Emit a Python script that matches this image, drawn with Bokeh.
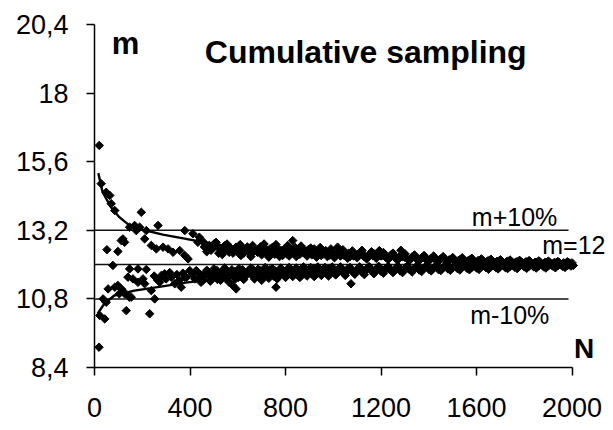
import math
from bokeh.plotting import figure
from bokeh.models import Range1d, FixedTicker, Label
from bokeh.embed import file_html
from bokeh.resources import INLINE

# ---------------- data ----------------
# upper branch of cumulative means (starting above m)
n_upper = [20, 28, 49, 64, 70, 85, 112, 119, 126, 147, 168, 175, 189, 196, 210, 217,
           238, 259, 266, 287, 308, 329, 357, 378, 378, 392, 412, 433, 439, 455, 481,
           495, 509, 530, 545, 564, 580, 593, 613, 620, 634, 650, 662, 683, 690, 704,
           715, 725, 735, 746, 755, 767, 780, 788, 809, 820, 830, 851, 860, 872, 885,
           900, 910, 920, 935, 949, 960, 968, 985, 997,
           1010, 1018, 1030, 1050, 1070, 1090, 1110, 1130, 1150, 1170, 1193, 1200, 1220,
           1240, 1260, 1283, 1290, 1310, 1330, 1350, 1370, 1390, 1410, 1430, 1450, 1470,
           1490, 1510, 1530, 1550, 1570, 1590, 1610, 1630, 1650, 1670, 1690, 1710, 1730,
           1750, 1770, 1790, 1810, 1830, 1850, 1870, 1890, 1910, 1930, 1950, 1970, 1990]
m_upper = [16.17, 14.83, 14.53, 14.42, 14.13, 13.89, 12.84, 12.90, 12.78, 13.31, 13.37, 13.19,
           13.31, 13.83, 12.90, 13.19, 12.67, 12.55, 13.37, 12.61, 12.55, 12.43, 12.49, 13.19,
           12.32, 12.20, 13.08, 12.78, 12.96, 12.80, 12.67, 12.58, 12.78, 12.55, 12.66, 12.43,
           12.40, 12.61, 12.32, 12.55, 12.49, 12.38, 12.67, 12.43, 12.52, 12.61, 12.45, 12.38,
           12.55, 12.61, 12.36, 12.43, 12.50, 12.32, 12.67, 12.40, 12.84, 12.43, 12.36, 12.55,
           12.48, 12.43, 12.34, 12.55, 12.45, 12.32, 12.38, 12.49, 12.33, 12.43,
           12.36, 12.61, 12.30, 12.40, 12.28, 12.35, 12.42, 12.27, 12.33, 12.38, 12.49, 12.30,
           12.25, 12.33, 12.22, 12.50, 12.28, 12.20, 12.27, 12.18, 12.24, 12.16, 12.22, 12.15,
           12.20, 12.13, 12.18, 12.12, 12.17, 12.11, 12.16, 12.10, 12.14, 12.09, 12.13, 12.08,
           12.12, 12.07, 12.11, 12.07, 12.10, 12.06, 12.09, 12.05, 12.08, 12.05, 12.07, 12.04,
           12.06, 12.04, 12.05, 12.04]
# more points of the upper branch (the dense band)
n_upper_2 = [470, 500, 520, 540, 555, 570, 600, 610, 640, 655, 670, 700, 710, 730, 760, 775,
             795, 815, 840, 845, 865, 890, 905, 930, 945, 975, 990, 1005, 1040, 1060, 1080,
             1100, 1120, 1140, 1160, 1180, 1210, 1230, 1250, 1270, 1300, 1320, 1340, 1360,
             1380, 1400, 1420, 1440, 1460, 1480, 1500, 1520, 1540, 1560, 1580, 1600, 1620,
             1640, 1660, 1680, 1700, 1720, 1740, 1760, 1780, 1800, 1820, 1840, 1860, 1880,
             1900, 1920, 1940, 1960, 1980, 2000]
m_upper_2 = [12.45, 12.72, 12.40, 12.50, 12.72, 12.58, 12.44, 12.70, 12.62, 12.28, 12.52,
             12.34, 12.72, 12.26, 12.70, 12.28, 12.55, 12.30, 12.60, 12.28, 12.65, 12.30,
             12.58, 12.26, 12.60, 12.28, 12.55, 12.24, 12.52, 12.22, 12.48, 12.24, 12.50,
             12.20, 12.45, 12.22, 12.42, 12.18, 12.40, 12.16, 12.38, 12.15, 12.34, 12.14,
             12.32, 12.12, 12.30, 12.11, 12.28, 12.10, 12.25, 12.09, 12.24, 12.08, 12.22,
             12.07, 12.20, 12.06, 12.19, 12.06, 12.17, 12.05, 12.16, 12.05, 12.15, 12.04,
             12.14, 12.04, 12.13, 12.03, 12.12, 12.03, 12.11, 12.03, 12.10, 12.06]
n_upper_3 = [460, 488, 515, 535, 560, 585, 605, 625, 645, 665, 695, 720, 740, 765, 785, 805,
             825, 855, 878, 895, 915, 940, 955, 980, 1000, 1025, 1045, 1065, 1085, 1105,
             1125, 1145, 1165, 1185, 1215, 1235, 1255, 1275, 1300, 1325, 1345, 1365, 1385,
             1405, 1425, 1445, 1465, 1485, 1505, 1525, 1545, 1565, 1585, 1605, 1625, 1645,
             1665, 1685, 1705, 1725, 1745, 1765, 1785, 1805, 1825, 1845, 1865, 1885, 1905,
             1925, 1945, 1965, 1985]
m_upper_3 = [12.62, 12.50, 12.62, 12.35, 12.55, 12.52, 12.48, 12.40, 12.55, 12.45, 12.62,
             12.52, 12.44, 12.56, 12.45, 12.38, 12.52, 12.50, 12.40, 12.52, 12.44, 12.38,
             12.50, 12.44, 12.30, 12.42, 12.32, 12.40, 12.30, 12.35, 12.38, 12.28, 12.32,
             12.36, 12.32, 12.28, 12.30, 12.26, 12.25, 12.22, 12.26, 12.20, 12.24, 12.19,
             12.22, 12.17, 12.21, 12.16, 12.19, 12.15, 12.18, 12.14, 12.17, 12.13, 12.16,
             12.12, 12.15, 12.11, 12.13, 12.10, 12.12, 12.09, 12.11, 12.09, 12.10, 12.08,
             12.10, 12.07, 12.09, 12.07, 12.08, 12.06, 12.08]

# lower branch of cumulative means (starting below m)
n_lower = [19, 22, 36, 43, 49, 52, 57, 77, 85, 98, 98, 104, 112, 118, 126, 133, 140, 146,
           147, 154, 161, 182, 182, 203, 210, 217, 231, 238, 250, 252, 265, 273, 280, 294,
           300, 315, 322, 336, 345, 355, 363, 370, 378, 385, 399, 410, 420, 426, 435, 440,
           446, 460, 475, 490, 505, 520, 535, 550, 564, 579, 593, 600, 615, 630, 645, 660,
           675, 690, 705, 720, 735, 750, 760, 775, 790, 805, 820, 835, 850, 865, 880, 895,
           910, 925, 940, 955, 970, 985,
           1000, 1020, 1040, 1060, 1074, 1080, 1100, 1120, 1140, 1160, 1180, 1200, 1220,
           1240, 1260, 1280, 1300, 1320, 1340, 1360, 1380, 1400, 1420, 1440, 1460, 1480,
           1500, 1520, 1540, 1560, 1580, 1600, 1620, 1640, 1660, 1680, 1700, 1720, 1740,
           1760, 1780, 1800, 1820, 1840, 1860, 1880, 1900, 1920, 1940, 1960, 1980, 1995]
m_lower = [9.11, 10.22, 10.80, 10.10, 10.68, 12.52, 11.15, 11.97, 11.21, 11.27, 12.46, 10.98,
           11.15, 11.09, 10.98, 10.39, 11.56, 10.86, 11.85, 10.86, 11.50, 11.38, 11.85, 11.50,
           11.33, 11.83, 10.28, 11.09, 11.60, 10.80, 11.45, 11.38, 11.62, 11.68, 11.50, 11.72,
           11.56, 11.33, 11.65, 11.45, 11.21, 11.70, 11.56, 11.55, 11.79, 11.66, 11.50, 11.79,
           11.72, 11.56, 11.38, 11.62, 11.75, 11.55, 11.70, 11.60, 11.78, 11.52, 11.38, 11.27,
           11.15, 11.66, 11.72, 11.58, 11.80, 11.63, 11.70, 11.56, 11.74, 11.66, 11.82, 11.60,
           11.21, 11.73, 11.66, 11.80, 11.70, 11.76, 11.64, 11.82, 11.72, 11.78, 11.68, 11.84,
           11.74, 11.80, 11.70, 11.86,
           11.76, 11.82, 11.72, 11.85, 11.33, 11.76, 11.83, 11.74, 11.86, 11.78, 11.84, 11.76,
           11.87, 11.80, 11.85, 11.78, 11.88, 11.82, 11.87, 11.81, 11.89, 11.84, 11.88, 11.83,
           11.90, 11.85, 11.89, 11.86, 11.91, 11.87, 11.90, 11.88, 11.92, 11.89, 11.92, 11.90,
           11.93, 11.90, 11.93, 11.91, 11.94, 11.92, 11.94, 11.92, 11.95, 11.93, 11.95, 11.94,
           11.96, 11.94, 11.96, 11.95]
# more points of the lower branch (the dense band)
n_lower_2 = [455, 470, 485, 500, 515, 530, 545, 560, 575, 590, 605, 625, 640, 655, 670, 685,
             700, 715, 730, 745, 765, 780, 800, 815, 830, 845, 860, 875, 890, 905, 920, 935,
             950, 965, 980, 995, 1010, 1030, 1050, 1070, 1090, 1110, 1130, 1150, 1170, 1190,
             1210, 1230, 1250, 1270, 1290, 1310, 1330, 1350, 1370, 1390, 1410, 1430, 1450,
             1470, 1490, 1510, 1530, 1550, 1570, 1590, 1610, 1630, 1650, 1670, 1690, 1710,
             1730, 1750, 1770, 1790, 1810, 1830, 1850, 1870, 1890, 1910, 1930, 1950, 1970,
             1990, 2005]
m_lower_2 = [11.45, 11.80, 11.42, 11.85, 11.48, 11.66, 11.88, 11.58, 11.82, 11.50, 11.86,
             11.48, 11.68, 11.88, 11.50, 11.84, 11.45, 11.90, 11.52, 11.86, 11.50, 11.88,
             11.55, 11.90, 11.58, 11.88, 11.55, 11.92, 11.60, 11.90, 11.58, 11.92, 11.62,
             11.90, 11.60, 11.92, 11.64, 11.92, 11.62, 11.90, 11.66, 11.92, 11.65, 11.93,
             11.68, 11.94, 11.70, 11.94, 11.72, 11.95, 11.72, 11.95, 11.74, 11.96, 11.76,
             11.96, 11.78, 11.97, 11.79, 11.97, 11.80, 11.98, 11.81, 11.98, 11.82, 11.98,
             11.83, 11.99, 11.84, 11.99, 11.85, 11.99, 11.86, 12.00, 11.86, 12.00, 11.87,
             12.00, 11.88, 12.00, 11.88, 12.01, 11.89, 12.01, 11.90, 12.01, 11.97]
n_lower_3 = [462, 480, 498, 512, 528, 542, 558, 572, 588, 602, 620, 635, 650, 665, 680, 695,
             712, 728, 742, 757, 772, 788, 808, 822, 838, 855, 870, 887, 902, 918, 932, 948,
             962, 978, 992, 1015, 1035, 1055, 1075, 1095, 1115, 1135, 1155, 1175, 1195, 1215,
             1235, 1255, 1275, 1295, 1315, 1335, 1355, 1375, 1395, 1415, 1435, 1455, 1475,
             1495, 1515, 1535, 1555, 1575, 1595, 1615, 1635, 1655, 1675, 1695, 1715, 1735,
             1755, 1775, 1795, 1815, 1835, 1855, 1875, 1895, 1915, 1935, 1955, 1975, 1998]
m_lower_3 = [11.70, 11.58, 11.68, 11.80, 11.45, 11.62, 11.74, 11.65, 11.76, 11.55, 11.82,
             11.65, 11.75, 11.82, 11.62, 11.78, 11.60, 11.74, 11.68, 11.78, 11.62, 11.76,
             11.68, 11.82, 11.68, 11.78, 11.66, 11.82, 11.72, 11.84, 11.70, 11.80, 11.74,
             11.84, 11.76, 11.70, 11.80, 11.74, 11.84, 11.76, 11.82, 11.78, 11.84, 11.76,
             11.86, 11.80, 11.85, 11.80, 11.88, 11.80, 11.86, 11.82, 11.90, 11.84, 11.90,
             11.85, 11.92, 11.86, 11.92, 11.88, 11.93, 11.88, 11.94, 11.89, 11.94, 11.90,
             11.95, 11.91, 11.95, 11.92, 11.96, 11.92, 11.96, 11.93, 11.97, 11.94, 11.97,
             11.94, 11.98, 11.95, 11.98, 11.96, 11.98, 11.96, 11.99]

# trend curves
n_fit_upper = [16, 34, 69, 104, 146, 202, 286, 383, 446, 523, 600, 800, 1000, 1200, 1400,
               1600, 1800, 2000]
m_fit_upper = [15.20, 14.53, 14.01, 13.66, 13.37, 13.22, 13.05, 12.90, 12.80, 12.70, 12.50,
               12.38, 12.28, 12.22, 12.17, 12.13, 12.10, 12.07]
n_fit_lower = [13, 41, 83, 167, 278, 390, 585, 795, 1000, 1200, 1400, 1600, 1800, 2000]
m_fit_lower = [10.28, 10.63, 10.92, 11.09, 11.23, 11.38, 11.56, 11.68, 11.76, 11.82, 11.86,
               11.89, 11.92, 11.94]

# reference levels: m+10%, m, m-10%
ref_levels = [13.2, 12.0, 10.8]
ref_end = 1985

x_ticks = [0, 400, 800, 1200, 1600, 2000]
y_ticks = [8.4, 10.8, 13.2, 15.6, 18.0, 20.4]
y_tick_labels = ["8,4", "10,8", "13,2", "15,6", "18", "20,4"]

FONT = "Liberation Sans"

# x range reaches past 2000 so the labels on the right are not clipped;
# the axis itself is bounded to 0..2000
p = figure(width=613, height=430, output_backend="svg", toolbar_location=None,
           x_range=Range1d(0, 2165), y_range=Range1d(8.4, 20.4),
           min_border_left=94, min_border_right=2, min_border_top=24, min_border_bottom=63)
p.outline_line_color = None
p.xgrid.visible = False
p.ygrid.visible = False
p.background_fill_color = "white"
p.border_fill_color = "white"

for ax in (p.xaxis[0], p.yaxis[0]):
    ax.axis_line_color = "#000000"
    ax.axis_line_width = 1.5
    ax.major_tick_line_color = "#000000"
    ax.major_tick_line_width = 1.5
    ax.major_tick_out = 8
    ax.major_tick_in = 0
    ax.minor_tick_line_color = None
    ax.major_label_text_font = FONT
    ax.major_label_text_font_size = "27px"
    ax.major_label_text_color = "#000000"

p.xaxis.ticker = FixedTicker(ticks=x_ticks)
p.xaxis.bounds = (0, 2000)
p.xaxis.major_label_standoff = 22
p.yaxis.ticker = FixedTicker(ticks=y_ticks)
p.yaxis.major_label_overrides = {t: lab for t, lab in zip(y_ticks, y_tick_labels)}
p.yaxis.major_label_standoff = 18

# reference lines
p.segment(x0=[0] * len(ref_levels), x1=[ref_end] * len(ref_levels),
          y0=ref_levels, y1=ref_levels, line_color="#111111", line_width=1.5)

# scatter points (diamonds)
for xs, ys in ((n_upper, m_upper), (n_upper_2, m_upper_2), (n_upper_3, m_upper_3),
               (n_lower, m_lower), (n_lower_2, m_lower_2), (n_lower_3, m_lower_3)):
    p.scatter(xs, ys, marker="square", angle=math.pi / 4, size=6,
              fill_color="black", line_color="black", line_width=1)

# trend curves
p.line(n_fit_upper, m_fit_upper, line_color="black", line_width=2.4)
p.line(n_fit_lower, m_fit_lower, line_color="black", line_width=2.4)

def lab(x, y, text, size, bold=False):
    p.add_layout(Label(x=x, y=y, text=text, text_font=FONT, text_font_size=size,
                       text_font_style="bold" if bold else "normal",
                       text_color="#000000", text_baseline="alphabetic", text_align="left"))

lab(72, 19.72, "m", "31px", bold=True)
lab(462, 19.45, "Cumulative sampling", "32px", bold=True)
lab(1580, 13.68, "m+10%", "25px")
lab(1875, 12.69, "m=12", "25px")
lab(1573, 10.24, "m-10%", "25px")
lab(2008, 9.07, "N", "28px", bold=True)

open("out.html", "w").write(file_html(p, INLINE))
